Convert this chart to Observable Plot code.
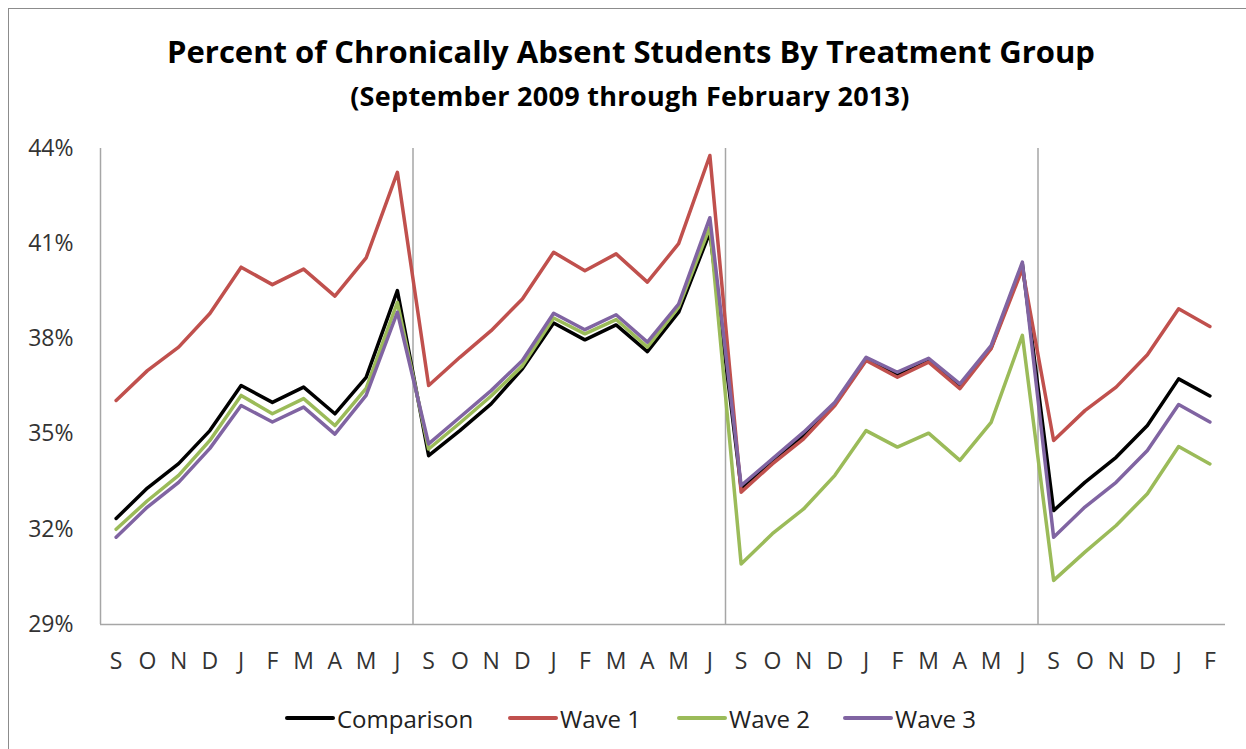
<!DOCTYPE html>
<html>
<head>
<meta charset="utf-8">
<script src="https://cdn.jsdelivr.net/npm/d3@7"></script>
<script src="https://cdn.jsdelivr.net/npm/@observablehq/plot@0.6"></script>
<style>
  html, body { margin: 0; padding: 0; background: #fff; }
  body { width: 1246px; height: 749px; position: relative; overflow: hidden; font-family: "Open Sans", Lato, sans-serif; }
  #frame { position: absolute; left: 8px; top: 8px; width: 1300px; height: 800px; border: 1.5px solid #8c8c8c; box-sizing: border-box; }
  #title { position: absolute; left: 0; top: 33px; width: 1262px; text-align: center; font-weight: 700; font-size: 31px; line-height: 36px; color: #000; white-space: nowrap; }
  #subtitle { position: absolute; left: 0; top: 80px; width: 1260px; text-align: center; font-weight: 700; font-size: 27px; line-height: 32px; letter-spacing: 0.3px; color: #000; white-space: nowrap; }
  #chart { position: absolute; left: 0; top: 120px; }
  #legend { position: absolute; left: 0; top: 703px; width: 1246px; height: 30px; }
  .item { position: absolute; top: 0; height: 30px; display: flex; align-items: center; font-size: 24px; color: #222; white-space: nowrap; }
  .sw { display: inline-block; width: 50px; height: 3.5px; margin-right: 2px; border-radius: 2px; }
</style>
</head>
<body>
<div id="frame"></div>
<div id="title">Percent of Chronically Absent Students By Treatment Group</div>
<div id="subtitle">(September 2009 through February 2013)</div>
<div id="chart"></div>
<div id="legend"></div>
<script>
// Month labels (Sep 2009 – Feb 2013)
const months = ["S","O","N","D","J","F","M","A","M","J",
                "S","O","N","D","J","F","M","A","M","J",
                "S","O","N","D","J","F","M","A","M","J",
                "S","O","N","D","J","F"];
const seriesNames = ["Comparison", "Wave 1", "Wave 2", "Wave 3"];
const seriesColors = ["#000000", "#C0504D", "#9BBB59", "#8064A2"];
const yTicks = [29, 32, 35, 38, 41, 44];

const comparison = [32.34,33.30,34.07,35.11,36.53,36.00,36.48,35.64,36.79,39.52,
                    34.32,35.11,35.95,37.06,38.50,37.97,38.44,37.60,38.84,41.36,
                    33.30,34.15,34.95,35.95,37.35,36.85,37.30,36.50,37.72,40.35,
                    32.59,33.48,34.27,35.27,36.74,36.20];
const wave1 = [36.06,37.00,37.74,38.80,40.26,39.71,40.20,39.35,40.55,43.25,
               36.53,37.42,38.26,39.26,40.73,40.15,40.68,39.79,41.00,43.78,
               33.17,34.06,34.85,35.90,37.32,36.79,37.27,36.43,37.69,40.21,
               34.80,35.74,36.48,37.50,38.95,38.39];
const wave2 = [32.00,32.90,33.70,34.80,36.22,35.64,36.12,35.27,36.44,39.15,
               34.53,35.35,36.20,37.15,38.66,38.16,38.61,37.74,39.00,41.52,
               30.91,31.86,32.64,33.70,35.11,34.59,35.03,34.17,35.37,38.11,
               30.39,31.28,32.12,33.12,34.61,34.06];
const wave3 = [31.75,32.70,33.48,34.55,35.90,35.38,35.85,35.00,36.22,38.84,
               34.69,35.53,36.37,37.32,38.81,38.29,38.76,37.90,39.10,41.82,
               33.38,34.22,35.06,36.00,37.42,36.95,37.39,36.58,37.79,40.42,
               31.75,32.70,33.48,34.48,35.93,35.38];
// school-year boundaries (between June and September)
const yearBreaks = [9.5, 19.5, 29.5];

const seriesValues = [comparison, wave1, wave2, wave3];
const data = seriesNames.flatMap((name, k) =>
  seriesValues[k].map((v, i) => ({ series: name, i, v })));

const chart = Plot.plot({
  width: 1246,
  height: 560,
  marginLeft: 100,
  marginRight: 21,
  marginTop: 28,
  marginBottom: 56,
  style: { fontFamily: "'Open Sans', Lato, sans-serif", fontSize: "23px", color: "#333", background: "transparent" },
  x: { domain: [-0.5, 35.5], axis: null },
  y: { domain: [29, 44], axis: null },
  color: { domain: seriesNames, range: seriesColors },
  marks: [
    Plot.ruleX(yearBreaks, { stroke: "#a6a6a6", strokeWidth: 1.5 }),
    Plot.ruleX([-0.5], { stroke: "#a6a6a6", strokeWidth: 1.5 }),
    Plot.ruleY([29], { stroke: "#a6a6a6", strokeWidth: 1.5 }),
    Plot.axisY({ ticks: yTicks, tickSize: 0, tickPadding: 27, tickFormat: d => d + "%", label: null }),
    Plot.axisX({ ticks: d3.range(months.length), tickSize: 0, tickPadding: 28, tickFormat: i => months[i], label: null }),
    Plot.line(data, { x: "i", y: "v", z: "series", stroke: "series", strokeWidth: 3.5, strokeLinejoin: "round", strokeLinecap: "round" })
  ]
});
document.getElementById("chart").appendChild(chart);

// Legend
const legendLeft = [285, 508, 677, 843];
const legend = document.getElementById("legend");
seriesNames.forEach((name, k) => {
  const item = document.createElement("div");
  item.className = "item";
  item.style.left = legendLeft[k] + "px";
  const sw = document.createElement("span");
  sw.className = "sw";
  sw.style.background = seriesColors[k];
  item.appendChild(sw);
  item.appendChild(document.createTextNode(name));
  legend.appendChild(item);
});
</script>
</body>
</html>
